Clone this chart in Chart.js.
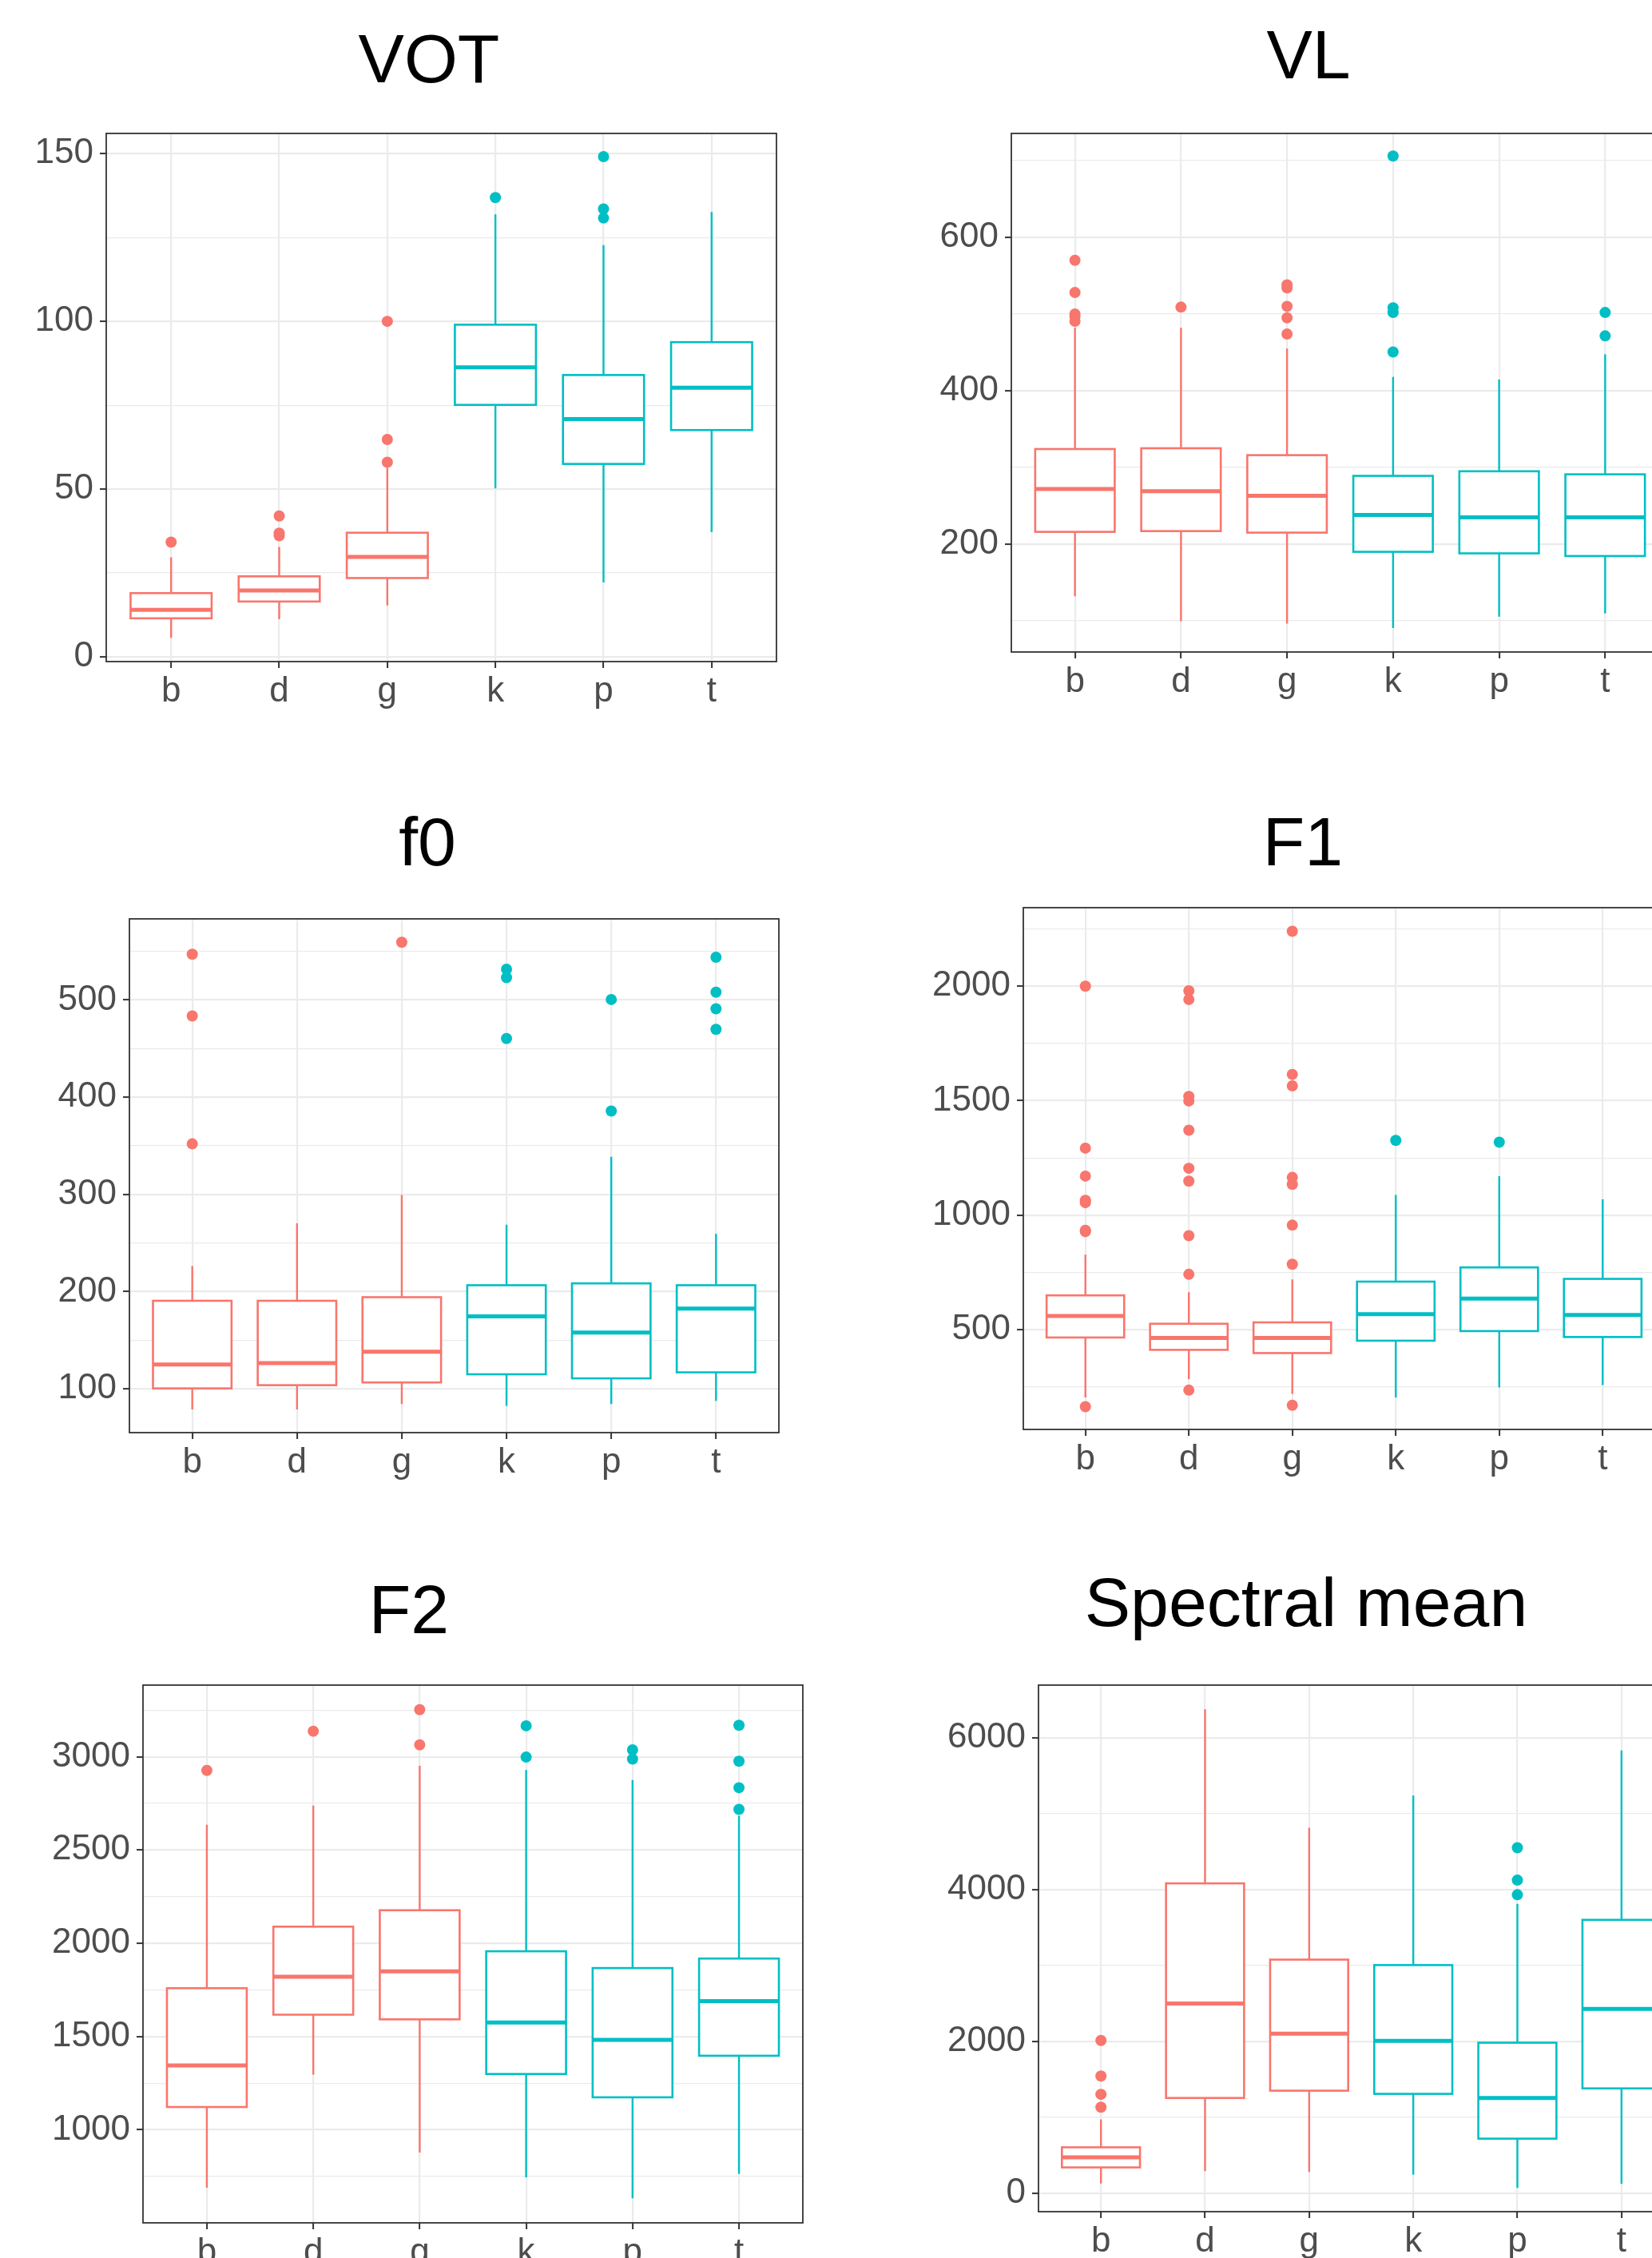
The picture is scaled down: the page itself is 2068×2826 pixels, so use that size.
<!DOCTYPE html>
<html>
<head>
<meta charset="utf-8">
<script src="https://cdn.jsdelivr.net/npm/chart.js@4.4.1/dist/chart.umd.min.js"></script>
<style>
 body{margin:0;width:2068px;height:2826px;overflow:hidden;background:#fff;position:relative;font-family:"Liberation Sans",Arial,sans-serif}
 .ttl{position:absolute;width:800px;text-align:center;font-size:86px;line-height:86px;color:#000;white-space:nowrap}
 canvas{position:absolute}
</style>
</head>
<body>
<script>
// categories + group (voiced = red, voiceless = teal)
const cats = ['b','d','g','k','p','t'];
const voiced = [true,true,true,false,false,false];

// VOT
const votLow  = [5.7, 11.2, 15.3, 50.2, 22.2, 37.2];
const votQ1   = [11.5, 16.5, 23.5, 75.1, 57.5, 67.6];
const votMed  = [14, 19.8, 29.8, 86.3, 70.9, 80.2];
const votQ3   = [19, 24, 37, 99, 84, 93.8];
const votHigh = [29.7, 32.8, 56.4, 131.9, 122.7, 132.6];
const votOut  = [[34.2],[36.1,36.9,42],[58,64.8,100],[136.9],[130.8,133.5,149.1],[]];
const votTicks = [0,50,100,150], votMinor = [25,75,125], votRange = [-1.4,156];

// VL
const vlLow  = [132, 99.5, 96.5, 90.6, 105.5, 109.7];
const vlQ1   = [216, 217, 215, 190, 188, 184.5];
const vlMed  = [272, 269, 263, 238, 235, 235];
const vlQ3   = [324, 325, 316, 289, 295, 291];
const vlHigh = [482, 482, 455, 418, 414.7, 447.5];
const vlOut  = [[490.6,497,500,528,570],[509],[474,495,510,534,538],[450.5,502,508,706],[],[471.5,502]];
const vlTicks = [200,400,600], vlMinor = [100,300,500,700], vlRange = [59.4,735.4];

// f0
const f0Low  = [78.8, 78.8, 84.4, 82.5, 84.4, 87.7];
const f0Q1   = [100.5, 103.8, 106.6, 115, 110.8, 117];
const f0Med  = [125, 126.4, 138.2, 174.5, 158, 182.5];
const f0Q3   = [190.6, 190.6, 194.3, 206.6, 208.5, 206.6];
const f0High = [226.4, 270.3, 299.5, 268.9, 338.7, 259.4];
const f0Out  = [[352,483.5,547],[],[559.4],[460.4,523,531.6],[385.8,500.5],[469.8,491,508,543.9]];
const f0Ticks = [100,200,300,400,500], f0Minor = [150,250,350,450,550], f0Range = [55,583.4];

// F1
const f1Low  = [204, 284, 220, 204, 248, 258];
const f1Q1   = [466, 412, 398, 452, 494, 468];
const f1Med  = [560, 464, 464, 568, 636, 564];
const f1Q3   = [650, 526, 532, 710, 772, 722];
const f1High = [828, 664, 720, 1089, 1171, 1069];
const f1Out  = [[164,928.5,934,1055,1065,1171,1293,2000],
                [236,742,910.5,1149,1205,1371,1499,1519,1942,1980],
                [170,786,956.5,1135,1165,1565,1615,2240],[1327],[1319],[]];
const f1Ticks = [500,1000,1500,2000], f1Minor = [250,750,1250,1750,2250], f1Range = [64.5,2343];

// F2
const f2Low  = [689, 1296, 878, 745, 633, 763];
const f2Q1   = [1122, 1617, 1592, 1299, 1174, 1397];
const f2Med  = [1345, 1820, 1849, 1575, 1482, 1690];
const f2Q3   = [1759, 2089, 2177, 1957, 1867, 1918];
const f2High = [2635, 2738, 2951, 2929, 2875, 2684];
const f2Out  = [[2927],[3137],[3064,3252],[2998,3166],[2988,3037],[2718,2834,2976,3169]];
const f2Ticks = [1000,1500,2000,2500,3000], f2Minor = [750,1250,1750,2250,2750,3250], f2Range = [501,3384];

// Spectral mean
const smLow  = [126, 289, 277, 241, 66, 120];
const smQ1   = [337, 1252, 1348, 1306, 716, 1378];
const smMed  = [469, 2497, 2100, 2004, 1252, 2425];
const smQ3   = [602, 4080, 3075, 3003, 1980, 3599];
const smHigh = [969, 6373, 4814, 5236, 3809, 5831];
const smOut  = [[1131,1300,1541,2010],[],[],[],[3930,4122,4550],[]];
const smTicks = [0,2000,4000,6000], smMinor = [1000,3000,5000], smRange = [-246,6692];

// layout: plot area [left, top, right, bottom] and title [centerX, baseline]
const plotBoxes = [[133,167,972,828],[1266,167,2089,816],[162,1150,975,1793],
                   [1281,1136,2084,1789],[179,2109,1005,2782],[1300,2109,2108,2768]];
const titlePos = [[537,103],[1638,98],[535,1083],[1631,1083],[512,2044],[1635,2035]];

const RED = '#F8766D', TEAL = '#00BFC4';
const FONT = '"Liberation Sans", Arial, sans-serif';
Chart.defaults.font.family = FONT;

const panels = [
 {title:'VOT', low:votLow, q1:votQ1, med:votMed, q3:votQ3, high:votHigh, out:votOut, ticks:votTicks, minor:votMinor, range:votRange},
 {title:'VL', low:vlLow, q1:vlQ1, med:vlMed, q3:vlQ3, high:vlHigh, out:vlOut, ticks:vlTicks, minor:vlMinor, range:vlRange},
 {title:'f0', low:f0Low, q1:f0Q1, med:f0Med, q3:f0Q3, high:f0High, out:f0Out, ticks:f0Ticks, minor:f0Minor, range:f0Range},
 {title:'F1', low:f1Low, q1:f1Q1, med:f1Med, q3:f1Q3, high:f1High, out:f1Out, ticks:f1Ticks, minor:f1Minor, range:f1Range},
 {title:'F2', low:f2Low, q1:f2Q1, med:f2Med, q3:f2Q3, high:f2High, out:f2Out, ticks:f2Ticks, minor:f2Minor, range:f2Range},
 {title:'Spectral mean', low:smLow, q1:smQ1, med:smMed, q3:smQ3, high:smHigh, out:smOut, ticks:smTicks, minor:smMinor, range:smRange}
];

function noPad(s){ s.paddingTop = 0; s.paddingBottom = 0; s.paddingLeft = 0; s.paddingRight = 0; }

function makePanel(p, box, tp){
  const [L,T,R,B] = box;
  const t = document.createElement('div');
  t.className = 'ttl';
  t.textContent = p.title;
  t.style.left = (tp[0]-400)+'px';
  t.style.top = (tp[1]-73)+'px';
  document.body.appendChild(t);

  const cv = document.createElement('canvas');
  const w = R-L+150, h = B-T+90;
  cv.width = w; cv.height = h;
  cv.style.left = (L-140)+'px'; cv.style.top = (T-10)+'px';
  cv.style.width = w+'px'; cv.style.height = h+'px';
  document.body.appendChild(cv);

  const colors = cats.map((c,i)=> voiced[i] ? RED : TEAL);
  const pts = [], ptCol = [];
  p.out.forEach((arr,i)=>arr.forEach(v=>{pts.push({x:i+1,y:v}); ptCol.push(colors[i]);}));
  const allTicks = p.ticks.concat(p.minor).sort((a,b)=>a-b);
  const isMajor = v => p.ticks.includes(v);

  const boxes = {
    id:'ggbox',
    afterDatasetsDraw(chart){
      const xs = chart.scales.x, ys = chart.scales.y, c = chart.ctx, a = chart.chartArea;
      const half = xs.getPixelForValue(1.375) - xs.getPixelForValue(1);
      c.save();
      cats.forEach((k,i)=>{
        const x = xs.getPixelForValue(i+1);
        const yl = ys.getPixelForValue(p.low[i]), y1 = ys.getPixelForValue(p.q1[i]);
        const ym = ys.getPixelForValue(p.med[i]), y3 = ys.getPixelForValue(p.q3[i]);
        const yh = ys.getPixelForValue(p.high[i]);
        c.strokeStyle = colors[i];
        c.lineWidth = 2.4;
        c.beginPath();
        c.moveTo(x,yh); c.lineTo(x,y3);
        c.moveTo(x,y1); c.lineTo(x,yl);
        c.stroke();
        c.fillStyle = '#fff';
        c.fillRect(x-half, y3, 2*half, y1-y3);
        c.lineWidth = 2.6;
        c.strokeRect(x-half, y3, 2*half, y1-y3);
        c.lineWidth = 5;
        c.beginPath();
        c.moveTo(x-half, ym); c.lineTo(x+half, ym);
        c.stroke();
      });
      c.strokeStyle = '#333333';
      c.lineWidth = 1.8;
      c.strokeRect(a.left, a.top, a.right-a.left, a.bottom-a.top);
      c.restore();
    }
  };

  new Chart(cv, {
    type:'scatter',
    data:{datasets:[{data:pts, pointRadius:7, pointHoverRadius:7, pointBorderWidth:0,
                     pointBackgroundColor:ptCol, pointBorderColor:ptCol}]},
    options:{
      responsive:false, animation:false, devicePixelRatio:1,
      layout:{padding:{left:0, top:10, right:10, bottom:0}},
      plugins:{legend:{display:false}, tooltip:{enabled:false}},
      scales:{
        x:{type:'linear', min:0.4, max:6.6,
           afterBuildTicks: s => { s.ticks = cats.map((c,i)=>({value:i+1})); },
           afterFit: s => { s.height = 80; noPad(s); },
           ticks:{callback: v => cats[v-1], font:{size:44}, color:'#4D4D4D', padding:3, autoSkip:false, maxRotation:0},
           grid:{color:'#EBEBEB', lineWidth:2.2, tickColor:'#333333', tickLength:8, tickWidth:2},
           border:{display:false}},
        y:{type:'linear', min:p.range[0], max:p.range[1],
           afterBuildTicks: s => { s.ticks = allTicks.map(v=>({value:v})); },
           afterFit: s => { s.width = 140; noPad(s); },
           ticks:{callback: v => isMajor(v) ? String(v) : '', font:{size:44}, color:'#4D4D4D', padding:8, autoSkip:false},
           grid:{color:'#EBEBEB',
                 lineWidth: ctx => isMajor(ctx.tick.value) ? 2.2 : 1.3,
                 tickColor: ctx => isMajor(ctx.tick.value) ? '#333333' : 'rgba(0,0,0,0)',
                 tickLength:8, tickWidth:2},
           border:{display:false}}
      }
    },
    plugins:[boxes]
  });
}

panels.forEach((p,i)=>makePanel(p, plotBoxes[i], titlePos[i]));
</script>
</body>
</html>
